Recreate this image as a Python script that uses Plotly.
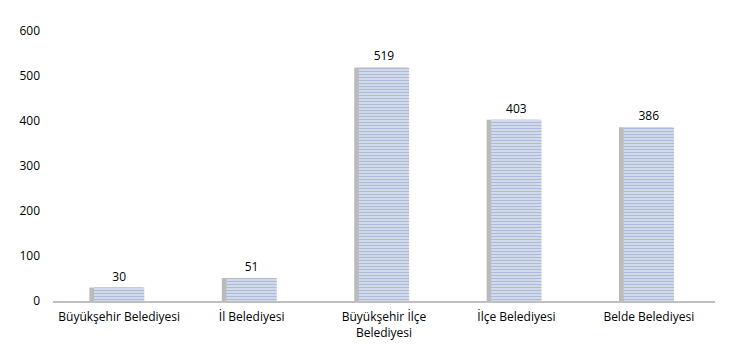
import plotly.graph_objects as go

categories = ["Büyükşehir Belediyesi", "İl Belediyesi", "Büyükşehir İlçe<br>Belediyesi", "İlçe Belediyesi", "Belde Belediyesi"]
values = [30, 51, 519, 403, 386]
y_ticks = [0, 100, 200, 300, 400, 500, 600]

fig = go.Figure()
# soft shadow
fig.add_trace(go.Bar(
    x=categories, y=values, width=0.4, offset=-0.225,
    marker=dict(color="rgba(120,120,120,0.5)", line=dict(width=0)),
    hoverinfo="skip", showlegend=False,
))
fig.add_trace(go.Bar(
    x=categories, y=values, width=0.38, offset=-0.19,
    marker=dict(color="white", line=dict(width=0),
                pattern=dict(shape="-", fgcolor="#5878b2", bgcolor="white", size=3, solidity=0.7)),
    text=[str(v) for v in values], textposition="outside",
    textfont=dict(size=12, color="#000000", family="Open Sans"),
    cliponaxis=False, showlegend=False,
))
fig.update_layout(
    width=738, height=353, barmode="overlay",
    margin=dict(l=53, r=23, t=31, b=50),
    paper_bgcolor="white", plot_bgcolor="white",
    font=dict(family="Open Sans", size=12, color="#000000"),
    xaxis=dict(showgrid=False, showline=True, linecolor="#bfbfbf", linewidth=2,
               ticks="", tickfont=dict(size=12, color="#000000"), ticklabelstandoff=4),
    yaxis=dict(range=[0, 600], tickvals=y_ticks, showgrid=False, zeroline=False,
               showline=False, ticks="", tickfont=dict(size=12, color="#000000"),
               ticklabelstandoff=12),
    showlegend=False,
)
fig.write_html("out.html")
